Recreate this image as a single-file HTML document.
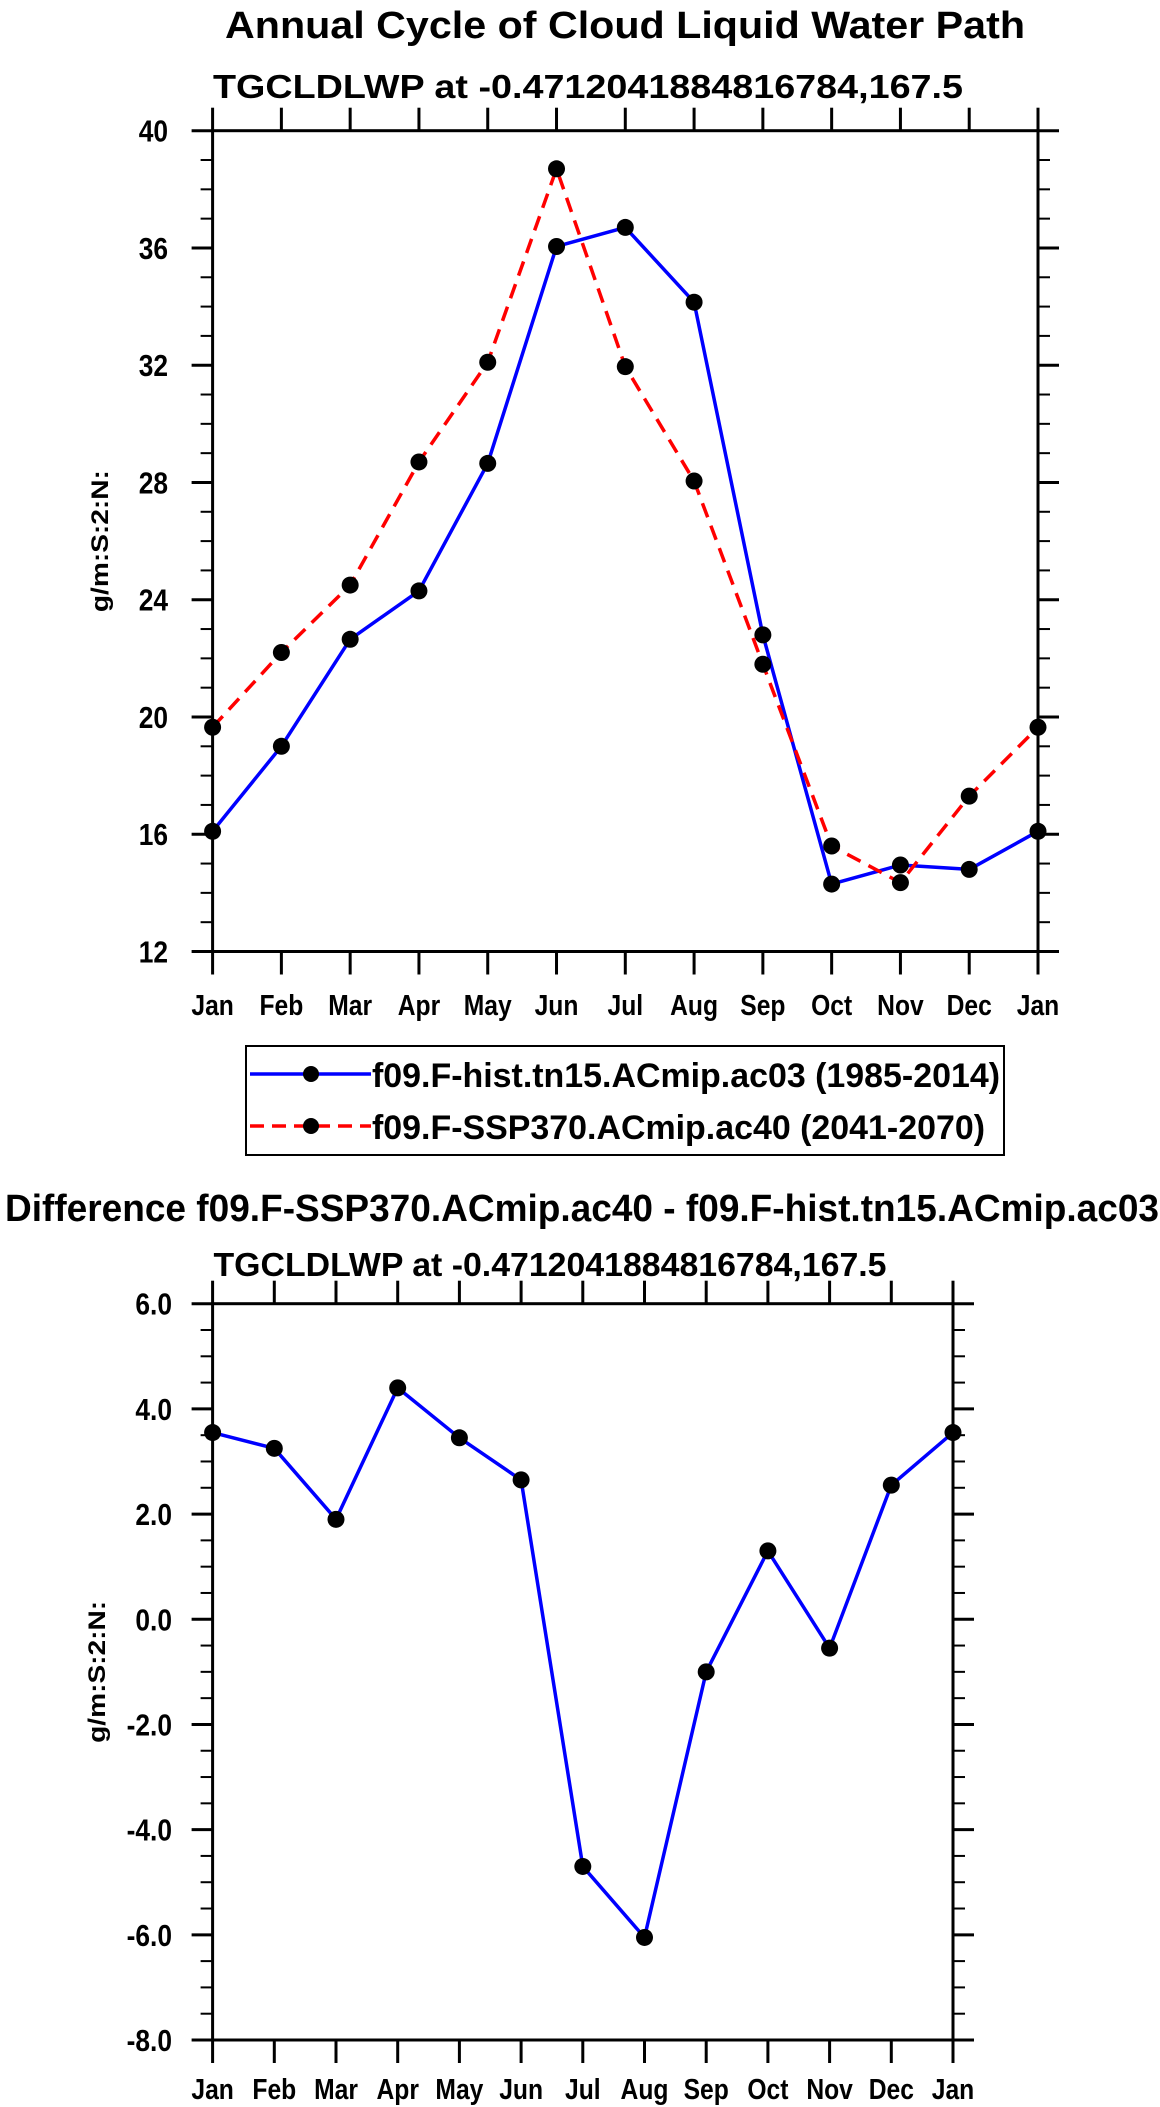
<!DOCTYPE html>
<html><head><meta charset="utf-8"><style>
html,body{margin:0;padding:0;background:#fff;}
svg{display:block;font-family:"Liberation Sans",Arial,sans-serif;font-weight:bold;}
</style></head><body>
<svg id="chart" width="1160" height="2107" viewBox="0 0 1160 2107" xmlns="http://www.w3.org/2000/svg">
<text x="625" y="38" font-size="38" text-anchor="middle" textLength="800" lengthAdjust="spacingAndGlyphs">Annual Cycle of Cloud Liquid Water Path</text>
<text x="588" y="98" font-size="33" text-anchor="middle" textLength="750" lengthAdjust="spacingAndGlyphs">TGCLDLWP at -0.4712041884816784,167.5</text>
<text x="582" y="1221" font-size="38" text-anchor="middle" textLength="1154" lengthAdjust="spacingAndGlyphs">Difference f09.F-SSP370.ACmip.ac40 - f09.F-hist.tn15.ACmip.ac03</text>
<text x="550" y="1276" font-size="33" text-anchor="middle" textLength="673" lengthAdjust="spacingAndGlyphs">TGCLDLWP at -0.4712041884816784,167.5</text>
<g id="topPanel"></g><g id="botPanel"></g>
<g>
<rect x="246" y="1046" width="758" height="109" fill="none" stroke="#000" stroke-width="2"/>
<g>
<line x1="250" y1="1074" x2="371" y2="1074" stroke="#0000ff" stroke-width="3.5"/>
<circle cx="311" cy="1074" r="8" fill="#000"/>
<text x="372" y="1087" font-size="34" textLength="628" lengthAdjust="spacingAndGlyphs">f09.F-hist.tn15.ACmip.ac03 (1985-2014)</text></g>
<g>
<line x1="250" y1="1126" x2="371" y2="1126" stroke="#ff0000" stroke-width="3.5" stroke-dasharray="14,8"/>
<circle cx="311" cy="1126" r="8" fill="#000"/>
<text x="372" y="1139" font-size="34" textLength="613" lengthAdjust="spacingAndGlyphs">f09.F-SSP370.ACmip.ac40 (2041-2070)</text></g>
</g>
</svg>
<script>
const months = ["Jan","Feb","Mar","Apr","May","Jun","Jul","Aug","Sep","Oct","Nov","Dec","Jan"];
const histValues = [16.1,19.0,22.65,24.3,28.65,36.05,36.7,34.15,22.8,14.3,14.95,14.8,16.1];
const sspValues = [19.65,22.2,24.5,28.7,32.1,38.7,31.95,28.05,21.8,15.6,14.35,17.3,19.65];
const diffValues = [3.55,3.25,1.9,4.4,3.45,2.65,-4.7,-6.05,-1.0,1.3,-0.55,2.55,3.55];
const topTicks = [12,16,20,24,28,32,36,40];
const topTickLabels = ["12","16","20","24","28","32","36","40"];
const botTicks = [-8,-6,-4,-2,0,2,4,6];
const botTickLabels = ["-8.0","-6.0","-4.0","-2.0","0.0","2.0","4.0","6.0"];

const NS="http://www.w3.org/2000/svg";
function mk(parent,tag,attrs){const e=document.createElementNS(NS,tag);for(const k in attrs)e.setAttribute(k,attrs[k]);parent.appendChild(e);return e;}

function drawPanel(g,cfg){
  const {L,R,T,B,ymin,ymax,ticks,labels,minor,labX,monthY,titleX}=cfg;
  const xs=i=>L+(R-L)*i/(months.length-1);
  const ys=v=>B-(v-ymin)/(ymax-ymin)*(B-T);
  const ax=mk(g,'g',{});
  
  
  mk(ax,'rect',{x:L,y:T,width:R-L,height:B-T,fill:'none',stroke:'#000','stroke-width':3});
  for(let i=0;i<months.length;i++){
    const x=xs(i);
    mk(ax,'line',{x1:x,y1:B,x2:x,y2:B+23,stroke:'#000','stroke-width':3});
    mk(ax,'line',{x1:x,y1:T,x2:x,y2:T-23,stroke:'#000','stroke-width':3});
    const t=mk(ax,'text',{x:0,y:0,'font-size':29,'text-anchor':'middle',transform:`translate(${x} ${monthY}) scale(0.85 1)`});
    
    
    t.textContent=months[i];
  }
  for(let v=ymin;v<=ymax+1e-9;v+=minor){
    const y=ys(v);
    mk(ax,'line',{x1:L,y1:y,x2:L-12,y2:y,stroke:'#000','stroke-width':2});
    mk(ax,'line',{x1:R,y1:y,x2:R+12,y2:y,stroke:'#000','stroke-width':2});
  }
  ticks.forEach((v,i)=>{
    const y=ys(v);
    mk(ax,'line',{x1:L,y1:y,x2:L-21,y2:y,stroke:'#000','stroke-width':3});
    mk(ax,'line',{x1:R,y1:y,x2:R+21,y2:y,stroke:'#000','stroke-width':3});
    const t=mk(ax,'text',{x:0,y:0,'font-size':31,'text-anchor':'end',transform:`translate(${labX} ${y+11}) scale(0.85 1)`});
    
    
    t.textContent=labels[i];
  });
  const yc=(T+B)/2;
  const yt=mk(ax,'text',{x:titleX,y:yc,'font-size':24,'text-anchor':'middle',transform:`rotate(-90 ${titleX} ${yc})`,dy:8,textLength:142,lengthAdjust:'spacingAndGlyphs'});
  
  
  yt.textContent='g/m:S:2:N:';
  cfg.series.forEach(s=>{
    const sg=mk(g,'g',{});
    
    
    const pts=s.values.map((v,i)=>xs(i)+','+ys(v)).join(' ');
    const pl=mk(sg,'polyline',{points:pts,fill:'none',stroke:s.color,'stroke-width':3.5,'stroke-linejoin':'round'});
    if(s.dash)pl.setAttribute('stroke-dasharray',s.dash);
    s.values.forEach((v,i)=>{
      const c=mk(sg,'circle',{cx:xs(i),cy:ys(v),r:8.5,fill:'#000'});
      
      
    });
  });
}
const topG=document.getElementById('topPanel');


drawPanel(topG,{name:'annual-cycle',L:212.6,R:1038,T:130.7,B:951.5,ymin:12,ymax:40,ticks:topTicks,labels:topTickLabels,minor:1,labX:168,monthY:1015,titleX:100,
  series:[{name:'hist-series',values:histValues,color:'#0000ff'},{name:'ssp370-series',values:sspValues,color:'#ff0000',dash:'15,9'}]});
const botG=document.getElementById('botPanel');


drawPanel(botG,{name:'difference',L:212.6,R:953,T:1303.7,B:2040,ymin:-8,ymax:6,ticks:botTicks,labels:botTickLabels,minor:0.5,labX:172,monthY:2099,titleX:97,
  series:[{name:'difference-series',values:diffValues,color:'#0000ff'}]});
</script>
</body></html>
